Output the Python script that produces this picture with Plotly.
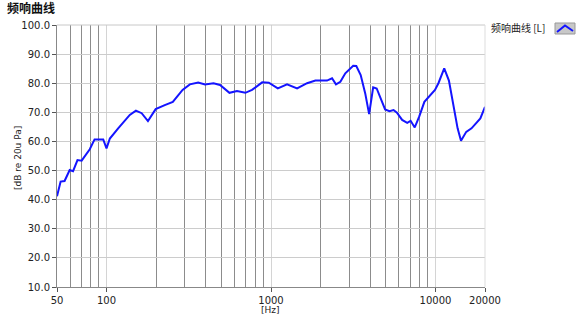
import math
import plotly.graph_objects as go

freq_hz = [50, 52.6, 55.6, 59.7, 62.6, 66.6, 70.6, 79.1, 84.6, 95.5, 100, 104.8, 117.7,
           138.5, 150.9, 163.6, 178.6, 199, 226, 253, 290, 321, 361, 397, 447, 490, 559,
           621, 698, 767, 884, 970, 1100, 1252, 1441, 1657, 1862, 2190, 2350, 2483, 2640,
           2830, 3160, 3300, 3510, 3740, 3950, 4180, 4390, 4940, 5250, 5560, 5830, 6270,
           6730, 7060, 7480, 7960, 8560, 9930, 10420, 11300, 12070, 13630, 14290, 15380,
           16560, 18740, 20000]
level_db = [41.2, 46.2, 46.4, 50.2, 49.8, 53.6, 53.4, 57.3, 60.7, 60.7, 57.6, 61, 64.5,
            69.1, 70.6, 69.7, 67, 71.1, 72.5, 73.6, 77.7, 79.6, 80.2, 79.6, 80, 79.4, 76.7,
            77.3, 76.7, 77.7, 80.3, 80.2, 78.2, 79.6, 78.2, 80, 80.9, 80.9, 81.7, 79.6, 80.5,
            83.4, 86, 85.9, 82.8, 76.5, 69.4, 78.6, 78.2, 71, 70.4, 70.8, 69.9, 67.4,
            66.4, 67.1, 64.8, 68.5, 73.6, 77.7, 80, 85.1, 80.9, 64.5, 60.2, 63.3,
            64.5, 67.9, 71.9]

x_tickvals = [50, 100, 1000, 10000, 20000]
x_ticktext = ["50", "100", "1000", "10000", "20000"]
x_minor = [60, 70, 80, 90, 200, 300, 400, 500, 600, 700, 800, 900,
           2000, 3000, 4000, 5000, 6000, 7000, 8000, 9000]
y_tickvals = [10, 20, 30, 40, 50, 60, 70, 80, 90, 100]

title_text = "频响曲线"
series_name = "频响曲线 [L]"
x_title = "[Hz]"
y_title = "[dB re 20u Pa]"

W, H = 586, 318
L, R, T, B = 57, 485, 25, 287

def px(p):
    return (p - L) / (R - L)

def py(p):
    return (B - p) / (B - T)

FONT = "DejaVu Sans"
CJK = "Noto Sans CJK SC"

fig = go.Figure()
fig.add_trace(go.Scatter(x=freq_hz, y=level_db, mode="lines", name=series_name,
                         line=dict(color="#1414ff", width=2), showlegend=False))

fig.update_layout(
    width=W, height=H,
    margin=dict(l=L, r=W - R, t=T, b=H - B),
    paper_bgcolor="white", plot_bgcolor="white",
    font=dict(family=FONT, size=10, color="#222222"),
    xaxis=dict(type="log", range=[math.log10(50), math.log10(20000)],
               tickmode="array", tickvals=x_tickvals, ticktext=x_ticktext,
               ticks="outside", ticklen=4, tickcolor="#555555",
               showgrid=True, gridcolor="#d4d4d4", gridwidth=1,
               minor=dict(tickmode="array", tickvals=x_minor, showgrid=True,
                          gridcolor="#8c8c8c", gridwidth=1, ticks=""),
               showline=True, linecolor="#888888", linewidth=1, mirror=False,
               zeroline=False, tickfont=dict(size=10, family=FONT)),
    yaxis=dict(range=[10, 100], tickmode="array", tickvals=y_tickvals,
               tickformat=".1f", ticks="outside", ticklen=4, tickcolor="#555555",
               showgrid=True, gridcolor="#cccccc", gridwidth=1,
               showline=True, linecolor="#888888", linewidth=1,
               zeroline=False, tickfont=dict(size=10, family=FONT)),
)

# plot frame on top/right (light)
fig.add_shape(type="line", xref="paper", yref="paper", x0=0, x1=1, y0=1, y1=1,
              line=dict(color="#c8c8c8", width=1))
fig.add_shape(type="line", xref="paper", yref="paper", x0=1, x1=1, y0=0, y1=1,
              line=dict(color="#dddddd", width=1))

# title
fig.add_annotation(text="<b>" + title_text + "</b>", xref="paper", yref="paper",
                   x=px(5), y=py(8), xanchor="left", yanchor="middle", showarrow=False,
                   font=dict(family=CJK, size=12, color="#111111"))
# axis titles
fig.add_annotation(text=x_title, xref="paper", yref="paper", x=px(270), y=py(310),
                   xanchor="center", yanchor="middle", showarrow=False,
                   font=dict(family=FONT, size=9, color="#222222"))
fig.add_annotation(text=y_title, xref="paper", yref="paper", x=px(18), y=py(158),
                   xanchor="center", yanchor="middle", showarrow=False, textangle=-90,
                   font=dict(family=FONT, size=9, color="#222222"))
# legend
fig.add_annotation(text=series_name, xref="paper", yref="paper", x=px(547), y=py(28),
                   xanchor="right", yanchor="middle", showarrow=False,
                   font=dict(family=CJK, size=10, color="#222222"))
fig.add_shape(type="rect", xref="paper", yref="paper",
              x0=px(555), x1=px(575), y0=py(34), y1=py(23),
              fillcolor="#c8c8c8", line=dict(color="#999999", width=1))
fig.add_shape(type="path", xref="paper", yref="paper",
              path=f"M {px(557)} {py(32)} L {px(565)} {py(25.5)} L {px(573)} {py(31)}",
              line=dict(color="#1414ff", width=2))

fig.write_html("out.html")
